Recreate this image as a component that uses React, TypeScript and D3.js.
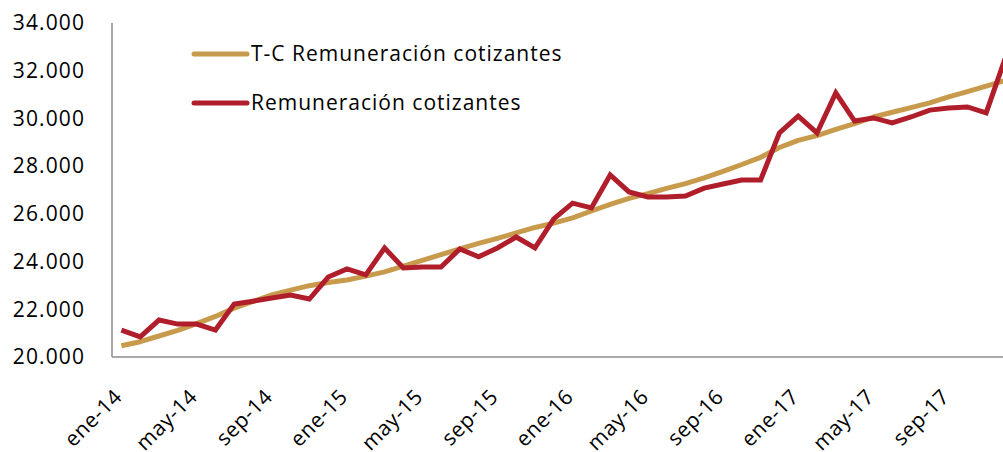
import React from "react";
import * as d3 from "d3";

const months = ["ene","feb","mar","abr","may","jun","jul","ago","sep","oct","nov","dic"];
const years = ["14","15","16","17"];
const categories: string[] = years.flatMap((y) => months.map((m) => `${m}-${y}`));

const remuneracion: number[] = [
  21130, 20840, 21550, 21380, 21380, 21130, 22220, 22340, 22470, 22600, 22430, 23350,
  23690, 23440, 24570, 23730, 23770, 23770, 24530, 24200, 24570, 25030, 24570, 25790,
  26450, 26250, 27630, 26920, 26710, 26710, 26750, 27080, 27250, 27420, 27420, 29390,
  30100, 29390, 31070, 29890, 30020, 29810, 30060, 30350, 30440, 30480, 30230, 32500,
];

const tendencia: number[] = [
  20470, 20640, 20880, 21120, 21400, 21700, 22050, 22330, 22600, 22800, 22990, 23120,
  23230, 23390, 23570, 23810, 24050, 24290, 24530, 24760, 24970, 25200, 25430, 25610,
  25830, 26120, 26400, 26650, 26850, 27070, 27270, 27510, 27780, 28070, 28370, 28780,
  29080, 29280, 29540, 29780, 30060, 30260, 30450, 30650, 30900, 31120, 31350, 31590,
];

const yTicks: number[] = [20000, 22000, 24000, 26000, 28000, 30000, 32000, 34000];
const seriesNames = ["T-C Remuneración cotizantes", "Remuneración cotizantes"];
const colors = ["#C89A4B", "#B01E2B"];

const W = 1003;
const H = 452;
const left = 112;
const right = 112 + 48 * 18.8;
const top = 23;
const bottom = 357;

export default function App() {
  const x = d3.scaleBand<string>().domain(categories).range([left, right]);
  const y = d3.scaleLinear().domain([20000, 34000]).range([bottom, top]);
  const cx = (i: number) => (x(categories[i]) as number) + x.bandwidth() / 2;
  const line = d3
    .line<number>()
    .x((_, i) => cx(i))
    .y((d) => y(d));
  const fmt = (v: number) => d3.format(",")(v).replace(/,/g, ".");
  const font = "'Open Sans', 'Noto Sans', sans-serif";
  const labelIdx = categories.map((_, i) => i).filter((i) => i % 4 === 0);

  return (
    <svg
      width={W}
      height={H}
      style={{ position: "absolute", left: 0, top: 0, background: "#fff" }}
      fontFamily={font}
    >
      <rect x={0} y={0} width={W} height={H} fill="#fff" />
      {yTicks.map((t) => (
        <text
          key={t}
          x={85}
          y={y(t)}
          dy="0.35em"
          textAnchor="end"
          fontSize={21}
          letterSpacing={1.1}
          fill="#000"
        >
          {fmt(t)}
        </text>
      ))}
      {labelIdx.map((i) => (
        <text
          key={categories[i]}
          transform={`translate(${cx(i) + 2},${398}) rotate(-45)`}
          textAnchor="end"
          fontSize={21}
          letterSpacing={0.6}
          fill="#000"
        >
          {categories[i]}
        </text>
      ))}
      <line x1={left} x2={W} y1={bottom} y2={bottom} stroke="#8c8c8c" strokeWidth={1.5} />
      <line x1={left} x2={left} y1={top} y2={bottom} stroke="#8c8c8c" strokeWidth={1.5} />
      <path d={line(tendencia) || ""} fill="none" stroke={colors[0]} strokeWidth={5} strokeLinejoin="round" />
      <path d={line(remuneracion) || ""} fill="none" stroke={colors[1]} strokeWidth={5} strokeLinejoin="miter" />
      {seriesNames.map((n, k) => (
        <g key={n}>
          <line
            x1={194}
            x2={247}
            y1={54 + k * 49}
            y2={54 + k * 49}
            stroke={colors[k]}
            strokeWidth={5}
            strokeLinecap="round"
          />
          <text x={251} y={54 + k * 49} dy="0.35em" fontSize={21} letterSpacing={1.0} fill="#000">
            {n}
          </text>
        </g>
      ))}
    </svg>
  );
}
